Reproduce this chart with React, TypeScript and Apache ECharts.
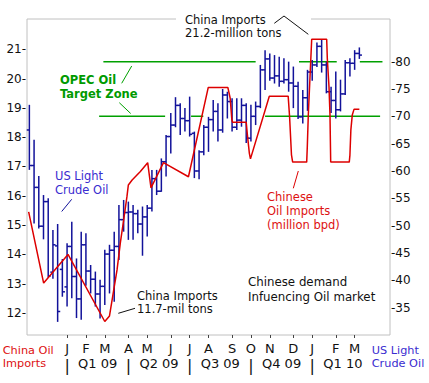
import React, { useEffect, useRef } from 'react';
import * as echarts from 'echarts';

// ---- x axis (weekly slots, first week = Nov 3 2008) ----
const WEEKS = 77;
const monthLabels = ['J', 'F', 'M', 'A', 'M', 'J', 'J', 'A', 'S', 'O', 'N', 'D', 'J', 'F', 'M'];
const monthWeek = [8, 12, 16, 21, 25, 30, 34, 38, 43, 47, 51, 56, 60, 65, 69];
const quarterLabels = ['Q1 09', 'Q2 09', 'Q3 09', 'Q4 09', 'Q1 10'];
const quarterCenters = [14.5, 27.5, 40.5, 53.5, 66.5];
const quarterSeps = [8, 21, 34, 47, 60];

// ---- US light crude oil weekly OHLC (right axis, $) ----
const crudeOpen = [
  67.5, 61.0, 57.0, 49.9, 54.4, 41.5, 46.3, 42.0, 38.8, 46.2,
  40.7, 36.6, 46.5, 41.7, 40.2, 37.5, 38.9, 44.8, 45.5, 46.2,
  51.1, 52.4, 52.5, 52.2, 50.3, 51.6, 53.2, 58.6, 56.3, 61.7,
  66.3, 68.4, 72.0, 69.6, 69.2, 66.9, 60.0, 63.5, 68.0, 69.4,
  70.9, 67.5, 73.9, 72.7, 68.0, 69.3, 72.0, 66.0, 70.0, 71.8,
  78.5, 80.5, 77.0, 77.4, 76.4, 76.7, 76.1, 75.5, 69.9, 73.4,
  78.1, 79.4, 82.8, 79.4, 74.5, 72.9, 71.2, 74.1, 79.8, 79.7, 81.5,
];
const crudeHigh = [
  72.1, 65.7, 59.1, 55.6, 55.0, 49.2, 50.3, 43.9, 46.8, 50.7,
  44.0, 48.9, 48.6, 42.8, 41.6, 40.1, 45.6, 46.5, 48.9, 53.8,
  54.7, 54.4, 53.8, 52.9, 53.5, 53.8, 60.2, 60.2, 62.3, 66.6,
  70.6, 73.5, 72.4, 71.5, 73.6, 67.2, 63.8, 68.4, 69.9, 73.0,
  72.4, 75.0, 74.5, 73.3, 73.3, 73.3, 72.4, 72.1, 72.7, 79.4,
  82.1, 81.5, 81.2, 80.9, 80.6, 80.0, 79.1, 76.3, 74.8, 78.5,
  80.3, 83.5, 84.0, 80.0, 75.4, 78.2, 76.7, 80.3, 80.6, 82.1, 82.6,
];
const crudeLow = [
  60.2, 50.4, 49.5, 47.5, 40.5, 40.3, 32.4, 37.0, 35.2, 36.7,
  33.1, 32.8, 39.0, 37.6, 35.2, 33.0, 35.5, 37.6, 36.1, 43.7,
  48.9, 47.4, 47.4, 48.6, 44.5, 48.0, 52.6, 55.6, 56.2, 59.0,
  63.2, 68.0, 66.6, 67.2, 66.3, 58.7, 58.5, 62.9, 63.5, 67.2,
  65.4, 67.0, 69.6, 67.2, 67.5, 68.1, 65.1, 65.4, 68.4, 71.5,
  74.8, 76.5, 76.0, 75.4, 76.0, 74.5, 71.5, 69.5, 68.7, 71.0,
  76.5, 79.0, 78.0, 74.2, 70.6, 69.6, 70.9, 73.9, 77.3, 78.5, 80.5,
];
const crudeClose = [
  61.0, 57.0, 49.9, 54.4, 40.8, 46.5, 34.3, 37.9, 46.2, 40.7,
  36.6, 46.5, 41.7, 40.2, 37.5, 38.9, 44.8, 45.5, 46.2, 51.1,
  52.4, 52.5, 52.2, 50.3, 51.6, 53.2, 58.6, 56.3, 61.7, 66.3,
  68.4, 72.0, 69.6, 69.2, 66.7, 60.0, 63.5, 68.0, 69.4, 70.9,
  67.5, 73.9, 72.7, 68.0, 69.3, 72.0, 66.0, 70.0, 71.8, 78.5,
  80.5, 77.0, 77.4, 76.4, 76.7, 76.1, 75.5, 69.9, 73.4, 78.1,
  79.4, 82.8, 79.4, 74.5, 72.9, 71.2, 74.1, 79.8, 79.7, 81.5, 81.2,
];

// ---- China oil imports (left axis, million tons), [week, value] ----
const chinaImports: [number, number][] = [
  [-0.15, 15.45], [3.03, 13.02], [8.2, 14.0], [16.0, 11.71], [17.0, 11.9],
  [17.9, 12.79], [18.6, 13.47], [19.3, 14.39], [20.0, 15.17], [20.7, 15.97],
  [21.0, 16.37], [21.8, 16.54], [23.5, 16.82], [25.1, 17.13], [25.8, 16.27],
  [28.45, 17.13], [33.75, 16.65], [37.95, 19.7], [42.1, 19.7], [42.6, 19.33],
  [42.95, 18.6], [43.1, 18.51], [46.0, 18.51], [46.25, 18.08], [46.67, 17.45],
  [46.9, 17.26], [50.9, 19.4], [54.9, 19.4], [55.2, 18.7], [55.6, 17.4],
  [55.85, 17.15], [58.83, 17.15], [58.96, 17.68], [59.17, 18.76], [59.89, 21.34],
  [63.07, 21.34], [63.2, 20.69], [63.56, 19.72], [63.77, 18.76], [63.92, 17.15],
  [67.86, 17.15], [68.0, 17.39], [68.2, 18.25], [68.5, 18.76], [68.86, 18.95],
  [70.0, 18.95],
];

// ---- OPEC target zone ($80 / $70), drawn in pieces [fromWeek, toWeek] ----
const opecLevels = [80, 70];
const opecPieces: [number, number][][] = [
  [[15.7, 48.0], [57.2, 65.2], [70.1, 74.9]],
  [[14.8, 28.8], [34.3, 36.9], [50.0, 74.4]],
];

const BLUE = '#12129a';
const RED = '#dd0000';
const GREEN = '#00a000';
const FONT = '"DejaVu Sans", Verdana, sans-serif';

export default function App() {
  const ref = useRef<HTMLDivElement>(null);
  useEffect(() => {
    document.body.style.margin = '0';
    if (!ref.current) return;
    const chart = echarts.init(ref.current, undefined, { renderer: 'svg' });

    const weekCats = Array.from({ length: WEEKS }, (_, i) => 'w' + i);
    const showMonth = (i: number) => monthWeek.indexOf(i) >= 0;
    const ohlc = crudeOpen.map((o, i) => [i, o, crudeHigh[i], crudeLow[i], crudeClose[i]]);

    const greenSeries: any[] = [];
    opecLevels.forEach((lv, k) => {
      opecPieces[k].forEach((p) => {
        greenSeries.push({
          type: 'line', xAxisIndex: 1, yAxisIndex: 1, symbol: 'none', z: 1,
          data: [[p[0], lv], [p[1], lv]],
          lineStyle: { color: GREEN, width: 1.5 },
          silent: true,
        });
      });
    });

    const txt = (x: number, y: number, text: string, fill: string, size: number, lh: number, bold = false) => ({
      type: 'text', x, y, z: 100,
      style: {
        text, fill, font: `${bold ? 'bold ' : ''}${size}px ${FONT}`, lineHeight: lh,
        align: 'left', verticalAlign: 'top',
      },
    });
    const seg = (x1: number, y1: number, x2: number, y2: number, stroke: string) => ({
      type: 'line', z: 100, shape: { x1, y1, x2, y2 }, style: { stroke, lineWidth: 1 },
    });

    chart.setOption({
      animation: false,
      backgroundColor: '#ffffff',
      grid: { left: 27, right: 39, top: 19, bottom: 48, show: true, borderColor: '#c0c0c0', borderWidth: 1, backgroundColor: 'transparent' },
      xAxis: [
        {
          type: 'category', data: weekCats, boundaryGap: true, position: 'bottom',
          axisLine: { show: false },
          axisTick: { show: true, interval: (i: number) => showMonth(i), alignWithLabel: true, length: 3, lineStyle: { color: '#444' } },
          axisLabel: {
            interval: (i: number) => showMonth(i), margin: 7,
            formatter: (_v: string, i: number) => { const k = monthWeek.indexOf(i); return k >= 0 ? monthLabels[k] : ''; },
            color: '#111', fontSize: 13, fontFamily: FONT,
          },
          splitLine: { show: false },
        },
        {
          type: 'value', min: -0.5, max: WEEKS - 0.5, interval: 0.5, position: 'bottom', offset: 16,
          axisLine: { show: false }, axisTick: { show: false }, splitLine: { show: false },
          axisLabel: {
            margin: 6, color: '#111', fontSize: 13, fontFamily: FONT, showMinLabel: true, showMaxLabel: true,
            rich: { p: { fontSize: 16, fontFamily: FONT, color: '#111' } },
            formatter: (v: number) => {
              const q = quarterCenters.findIndex((c) => Math.abs(c - v) < 0.01);
              if (q >= 0) return quarterLabels[q];
              if (quarterSeps.some((s) => Math.abs(s - v) < 0.01)) return '{p||}';
              return '';
            },
          },
        },
      ],
      yAxis: [
        {
          type: 'value', position: 'left', min: 11.249, max: 22.034, splitNumber: 10,
          axisLine: { show: false }, axisTick: { show: false }, splitLine: { show: false },
          axisLabel: {
            margin: 1, color: '#111', fontSize: 12, fontFamily: FONT,
            formatter: (v: number) => (Math.abs(v - Math.round(v)) < 1e-6 && v >= 12 && v <= 21 ? `${Math.round(v)}-` : ''),
          },
        },
        {
          type: 'value', position: 'right', min: 30, max: 87.8, interval: 5,
          axisLine: { show: false }, axisTick: { show: false }, splitLine: { show: false },
          axisLabel: {
            margin: 1, color: '#111', fontSize: 12, fontFamily: FONT,
            formatter: (v: number) => (v >= 35 && v <= 80 ? `-${v}` : ''),
          },
        },
      ],
      series: [
        ...greenSeries,
        {
          type: 'custom', xAxisIndex: 1, yAxisIndex: 1, z: 2,
          dimensions: ['w', 'o', 'h', 'l', 'c'],
          encode: { x: 0, y: [1, 2, 3, 4] },
          data: ohlc,
          renderItem: (_p: any, api: any) => {
            const w = api.value(0);
            const o = api.coord([w, api.value(1)]);
            const h = api.coord([w, api.value(2)]);
            const l = api.coord([w, api.value(3)]);
            const c = api.coord([w, api.value(4)]);
            const st = { stroke: BLUE, lineWidth: 1.5 };
            return {
              type: 'group',
              children: [
                { type: 'line', shape: { x1: h[0], y1: h[1], x2: l[0], y2: l[1] }, style: st },
                { type: 'line', shape: { x1: o[0] - 2.6, y1: o[1], x2: o[0], y2: o[1] }, style: st },
                { type: 'line', shape: { x1: c[0], y1: c[1], x2: c[0] + 2.6, y2: c[1] }, style: st },
              ],
            };
          },
        },
        {
          type: 'line', xAxisIndex: 1, yAxisIndex: 0, z: 3, symbol: 'none',
          data: chinaImports,
          lineStyle: { color: RED, width: 1.5 },
        },
      ],
      graphic: [
        { type: 'rect', z: 90, shape: { x: 176, y: 16, width: 135, height: 6 }, style: { fill: '#ffffff' } },
        txt(185, 13.5, 'China Imports\n21.2-million tons', '#111', 11.5, 13),
        { type: 'polyline', z: 100, shape: { points: [[274.3, 23.3], [284, 16], [308.3, 34.3]] }, style: { stroke: '#111', lineWidth: 1, fill: 'none' } },
        txt(60, 73.5, 'OPEC Oil\nTarget Zone', '#009a00', 11.5, 13.5, true),
        seg(121.7, 83.3, 131.7, 66, GREEN),
        seg(119.3, 102.7, 130.7, 113.5, GREEN),
        txt(55, 169.5, 'US Light\nCrude Oil', '#3a2cd0', 11.5, 13.5),
        seg(61.7, 211.5, 71.7, 199.3, BLUE),
        txt(137, 289.5, 'China Imports\n11.7-mil tons', '#111', 11.5, 13),
        seg(118.3, 313.3, 135, 308.3, '#111'),
        txt(267, 190, 'Chinese\nOil Imports\n(million bpd)', '#dd1111', 11.5, 13.8),
        seg(293.3, 188.3, 298.3, 171, RED),
        txt(248, 274.5, 'Chinese demand\nInfuencing Oil market', '#111', 11.8, 14.8),
        txt(2.7, 343.5, 'China Oil\nImports', '#dd1111', 11.3, 13),
        txt(371.7, 343.5, 'US Light\nCrude Oil', '#3a2cd0', 11.3, 13),
      ],
    });
    return () => chart.dispose();
  }, []);
  return <div ref={ref} style={{ width: 429, height: 383 }} />;
}
